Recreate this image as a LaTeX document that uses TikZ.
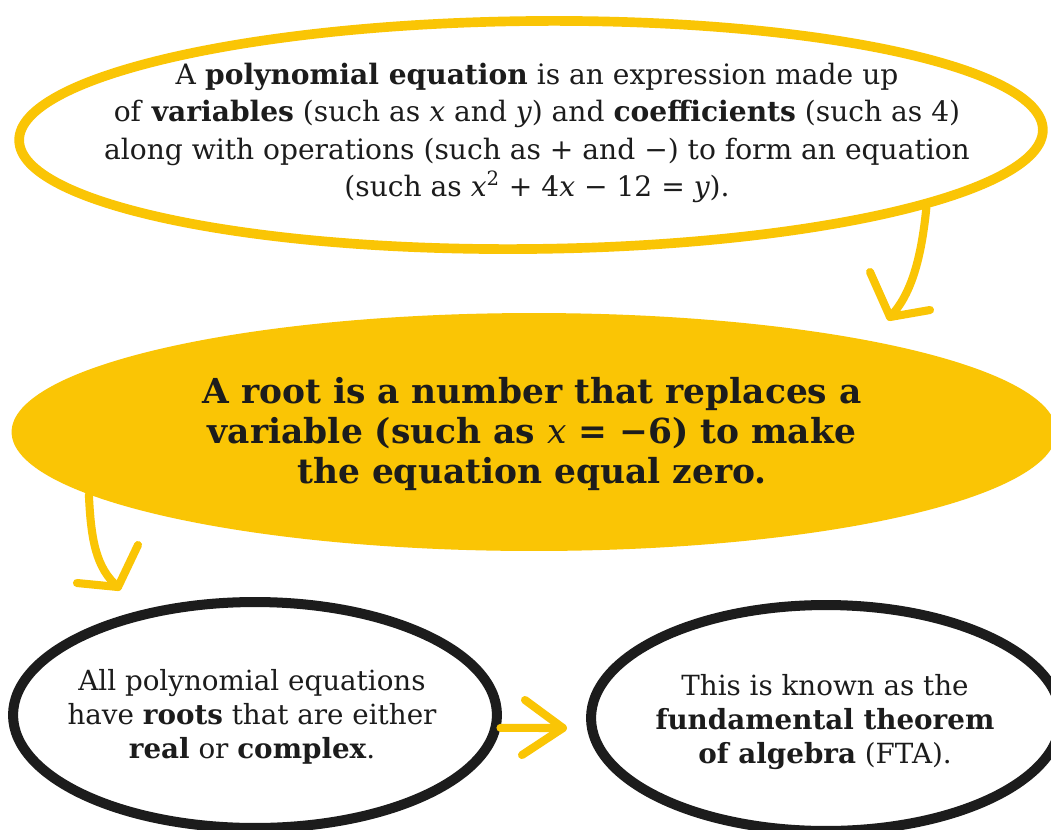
\documentclass[tikz,border=0pt]{standalone}
\usepackage{fontspec}
\setmainfont{DejaVu Serif}
\usetikzlibrary{shapes.geometric}
\definecolor{ylw}{RGB}{250,197,5}
\definecolor{ink}{RGB}{28,28,28}
\newcommand{\vx}{{\mdseries\itshape x}}
\newcommand{\vy}{{\mdseries\itshape y}}
\tikzset{
  ring/.style={ellipse, draw=ylw, line width=5.5pt, inner sep=0pt},
  blob/.style={ellipse, fill=ylw, draw=none, inner sep=0pt},
  bring/.style={ellipse, draw=ink, line width=5.7pt, inner sep=0pt},
  txt/.style={align=center, text=ink, inner sep=0pt},
  yarrow/.style={draw=ylw, line width=4.6pt, line cap=round, line join=round},
}
\begin{document}
\begin{tikzpicture}[x=0.02cm, y=-0.02cm]
\useasboundingbox (0,0) rectangle (1051,829);
\clip (0,0) rectangle (1051,829);
\fill[white] (0,0) rectangle (1051,829);

% shapes
\node[ring, minimum width=20.48cm, minimum height=4.56cm, rotate=0.6] (top) at (531,135) {};
\node[blob, minimum width=20.9cm, minimum height=4.76cm] (mid) at (534,432) {};
\node[bring, minimum width=9.68cm, minimum height=4.52cm] (bl) at (255,715) {};
\node[bring, minimum width=9.4cm, minimum height=4.52cm] (br) at (826,718) {};

% texts
\node[txt, font=\fontsize{16}{21.2}\selectfont] (toptext) at (537,133)
  {A \textbf{polynomial equation} is an expression made up\\
   of \textbf{variables} (such as \vx{} and \vy) and \textbf{coefficients} (such as 4)\\
   along with operations (such as + and −) to form an equation\\
   (such as \vx\textsuperscript{2} + 4\vx{} − 12 = \vy).};
\node[txt, font=\bfseries\fontsize{19.6}{22.6}\selectfont] (midtext) at (532,434)
  {A root is a number that replaces a\\
   variable (such as \vx{} = −6) to make\\
   the equation equal zero.};
\node[txt, font=\fontsize{15.8}{19.4}\selectfont] (bltext) at (252,717)
  {All polynomial equations\\
   have \textbf{roots} that are either\\
   \textbf{real} or \textbf{complex}.};
\node[txt, font=\fontsize{15.8}{19.4}\selectfont] (brtext) at (825,722)
  {This is known as the\\
   \textbf{fundamental theorem}\\
   \textbf{of algebra} (FTA).};

% arrow 1: top ring -> mid
\coordinate (t1) at (890,317);
\coordinate (t1a) at (870,272);
\coordinate (t1b) at (930,310);
\draw[yarrow] (top.-11.4) .. controls (921,262) and (910,296) .. (t1);
\draw[yarrow] (t1a) -- (t1) -- (t1b);

% arrow 2: mid -> bottom left
\coordinate (t2) at (118,587);
\coordinate (t2a) at (77,583);
\coordinate (t2b) at (138,545);
\draw[yarrow] (mid.188.5) .. controls (91,540) and (96,568) .. (t2);
\draw[yarrow] (t2a) -- (t2) -- (t2b);

% arrow 3: bottom left -> bottom right
\coordinate (t3) at (563,728);
\coordinate (t3a) at (525,700);
\coordinate (t3b) at (522,755);
\draw[yarrow] (bl.-3.6) -- (t3);
\draw[yarrow] (t3a) -- (t3) -- (t3b);
\end{tikzpicture}
\end{document}
